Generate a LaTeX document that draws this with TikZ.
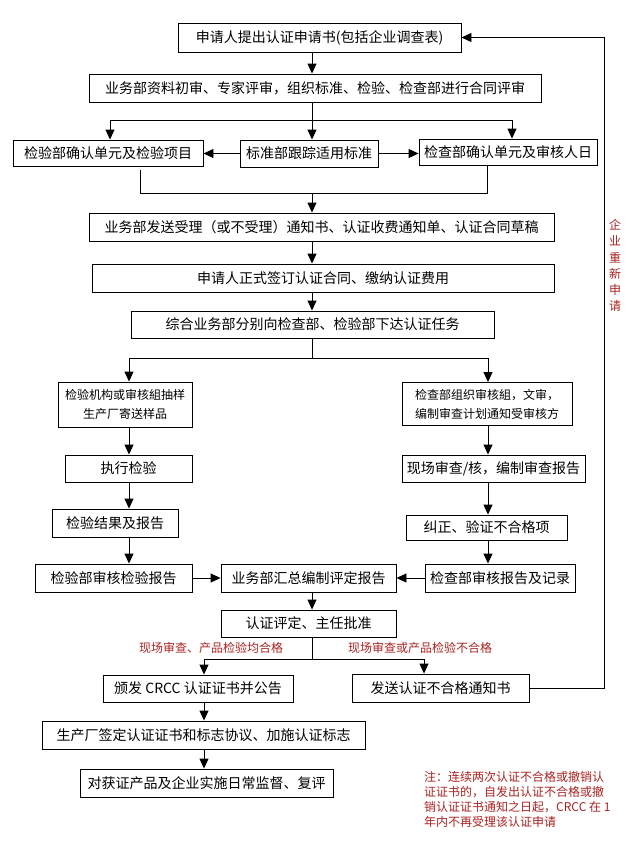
\documentclass[tikz,border=0pt]{standalone}
\usepackage{fontspec}
\newfontfamily\cjk{Noto Sans CJK SC}
\usetikzlibrary{arrows.meta,calc}
\definecolor{note}{RGB}{170,35,35}
\begin{document}
\begin{tikzpicture}[x=1pt,y=-1pt,
  box/.style={draw,line width=0.9pt,inner sep=0pt,font=\cjk\fontsize{14}{16}\selectfont},
  sbox/.style={box,font=\cjk\fontsize{12}{19}\selectfont,align=center},
  arr/.style={line width=0.9pt,-{Triangle[length=10pt,width=9pt]}},
  ln/.style={line width=0.9pt},
  lab/.style={text=note,font=\cjk\fontsize{12}{15}\selectfont,inner sep=0pt}]
\fill[white] (0,0) rectangle (636,854);
\useasboundingbox (0,0) rectangle (636,854);
% boxes
\node[box,minimum width=283,minimum height=29] (B1) at (319.5,37.5) {申请人提出认证申请书(包括企业调查表)};
\node[box,minimum width=452,minimum height=28] (B2) at (315,88) {业务部资料初审、专家评审，组织标准、检验、检查部进行合同评审};
\node[box,minimum width=190,minimum height=26] (B3L) at (108,153) {检验部确认单元及检验项目};
\node[box,minimum width=138,minimum height=27] (B3M) at (309,153.5) {标准部跟踪适用标准};
\node[box,minimum width=178,minimum height=26] (B3R) at (508,152) {检查部确认单元及审核人日};
\node[box,minimum width=465,minimum height=28] (B4) at (321.5,227) {业务部发送受理（或不受理）通知书、认证收费通知单、认证合同草稿};
\node[box,minimum width=462,minimum height=28] (B5) at (323,278) {申请人正式签订认证合同、缴纳认证费用};
\node[box,minimum width=363,minimum height=27] (B6) at (312.5,324.5) {综合业务部分别向检查部、检验部下达认证任务};
\node[sbox,minimum width=134,minimum height=45] (B7L) at (125,404.5) {检验机构或审核組抽样\\生产厂寄送样品};
\node[sbox,minimum width=170,minimum height=43] (B7R) at (487,404) {检查部组织审核組，文审，\\编制审查计划通知受审核方};
\node[box,minimum width=127,minimum height=27] (B8L) at (128.5,468.5) {执行检验};
\node[box,minimum width=183,minimum height=27] (B8R) at (493.5,468.5) {现场审查/核，编制审查报告};
\node[box,minimum width=126,minimum height=28] (B9L) at (115,523) {检验结果及报告};
\node[box,minimum width=161,minimum height=25] (B9R) at (486.5,527.5) {纠正、验证不合格项};
\node[box,minimum width=157,minimum height=28] (B10L) at (113.5,578) {检验部审核检验报告};
\node[box,minimum width=175,minimum height=28] (B10M) at (308.5,578) {业务部汇总编制评定报告};
\node[box,minimum width=150,minimum height=28] (B10R) at (500,578) {检查部审核报告及记录};
\node[box,minimum width=175,minimum height=27] (B11) at (308.5,623.5) {认证评定、主任批准};
\node[box,minimum width=190,minimum height=27] (B12L) at (198,688.5) {颁发 CRCC 认证证书并公告};
\node[box,minimum width=177,minimum height=28] (B12R) at (440.5,688) {发送认证不合格通知书};
\node[box,minimum width=323,minimum height=28] (B13) at (203.5,735) {生产厂签定认证证书和标志协议、加施认证标志};
\node[box,minimum width=253,minimum height=28] (B14) at (206.5,783) {对获证产品及企业实施日常监督、复评};
% labels
\node[lab] (L1) at (211,648) {现场审查、产品检验均合格};
\node[lab] (L2) at (420,648) {现场审查或产品检验不合格};
\node[lab,align=center,font=\cjk\fontsize{12}{16.2}\selectfont] (L3) at (615,265.5) {企\\业\\重\\新\\申\\请};
\node[lab,anchor=north west,align=left] (L4) at (424,771) {注：连续两次认证不合格或撤销认\\证证书的，自发出认证不合格或撤\\销认证证书通知之日起，CRCC 在 1\\年内不再受理该认证申请};
% coordinates
\coordinate (ax) at (312,0);
\coordinate (s1) at (110,120);
\coordinate (s2) at (512,120);
\coordinate (j1) at (140,193);
\coordinate (j2) at (487,193);
\coordinate (k1) at (129,358);
\coordinate (k2) at (488,358);
\coordinate (m1) at (204,659);
\coordinate (m2) at (424,659);
\coordinate (r) at (604,0);
% connectors
\draw[arr] (B1.south -| ax) -- (B2.north -| ax);
\draw[arr] (B2.south -| ax) -- (B3M.north -| ax);
\draw[ln] (s1) -- (s2);
\draw[arr] (s1) -- (s1 |- B3L.north);
\draw[arr] (s2) -- (s2 |- B3R.north);
\draw[arr] (B3M.west) -- (B3M.west -| B3L.east);
\draw[arr] (B3M.east) -- (B3M.east -| B3R.west);
\draw[ln] ($(B3L.south -| j1)+(0,4)$) -- (j1) -- (j2) -- (j2 |- B3R.south);
\draw[arr] (j1 -| ax) -- (B4.north -| ax);
\draw[arr] (B4.south -| ax) -- (B5.north -| ax);
\draw[arr] (B5.south -| ax) -- (B6.north -| ax);
\draw[ln] (B6.south -| ax) -- (k1 -| ax);
\draw[ln] (k1) -- (k2);
\draw[arr] (k1) -- (k1 |- B7L.north);
\draw[arr] (k2) -- (k2 |- B7R.north);
\draw[arr] (B7L.south -| k1) -- (B8L.north -| k1);
\draw[arr] (B8L.south -| k1) -- (B9L.north -| k1);
\draw[arr] (B9L.south -| k1) -- (B10L.north -| k1);
\draw[arr] (B7R.south -| k2) -- (B8R.north -| k2);
\draw[arr] (B8R.south -| k2) -- (B9R.north -| k2);
\draw[arr] (B9R.south -| k2) -- (B10R.north -| k2);
\draw[arr] (B10L.east) -- (B10M.west);
\draw[arr] (B10R.west) -- (B10M.east);
\draw[arr] (B10M.south -| ax) -- (B11.north -| ax);
\draw[ln] (B11.south -| ax) -- (m1 -| ax);
\draw[ln] (m1) -- (m2);
\draw[arr] (m1) -- (m1 |- B12L.north);
\draw[arr] (m2) -- (m2 |- B12R.north);
\draw[arr] (B12R.east) -- (B12R.east -| r) -- (r |- B1.east) -- (B1.east);
\draw[arr] (B12L.south -| m1) -- (B13.north -| m1);
\draw[arr] (B13.south -| m1) -- (B14.north -| m1);
\end{tikzpicture}
\end{document}
